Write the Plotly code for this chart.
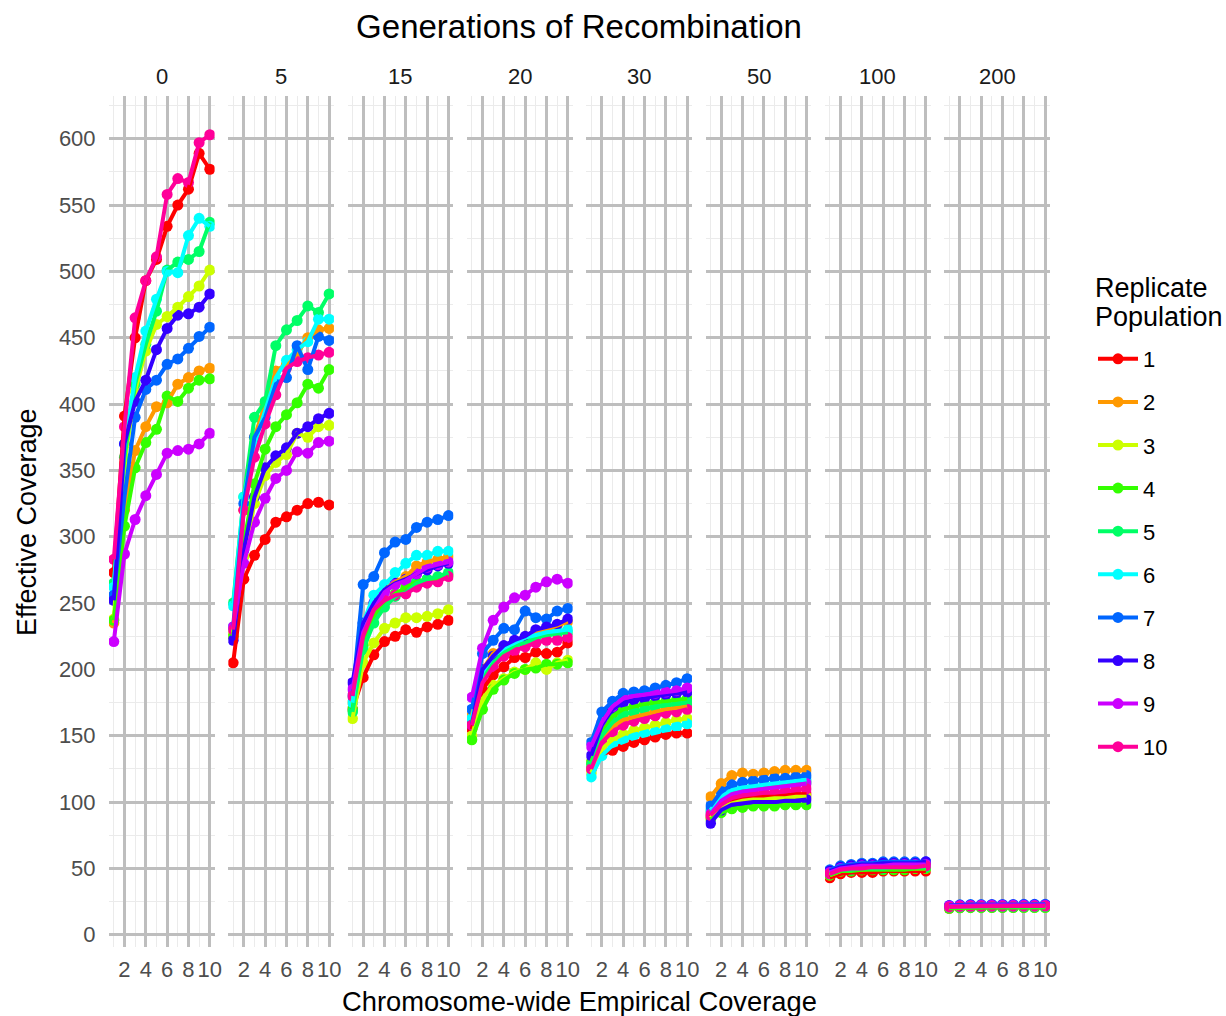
import plotly.graph_objects as go

coverage = list(range(1, 11))
generations = ["0", "5", "15", "20", "30", "50", "100", "200"]
replicates = [str(i) for i in range(1, 11)]
colors = ["#FF0000", "#FF9900", "#CCFF00", "#33FF00", "#00FF66",
          "#00FFFF", "#0066FF", "#3300FF", "#CC00FF", "#FF0099"]

# rows: replicate 1..10, columns: coverage 1..10
gen_0 = [
    [273, 391, 450, 493, 509, 534, 550, 562, 589, 577],
    [235, 320, 365, 383, 398, 401, 415, 420, 425, 427],
    [238, 355, 410, 440, 460, 466, 473, 481, 489, 501],
    [237, 308, 352, 371, 381, 406, 402, 412, 418, 419],
    [265, 360, 415, 445, 470, 501, 507, 509, 515, 537],
    [262, 370, 420, 455, 479, 500, 499, 527, 540, 534],
    [256, 330, 390, 411, 418, 430, 434, 442, 451, 458],
    [252, 370, 402, 418, 441, 457, 467, 468, 473, 483],
    [221, 287, 313, 331, 347, 363, 365, 366, 370, 378],
    [283, 383, 465, 493, 511, 558, 570, 567, 597, 603],
]
gen_5 = [
    [205, 268, 286, 298, 311, 315, 320, 325, 326, 324],
    [225, 320, 375, 400, 425, 430, 438, 450, 456, 457],
    [228, 285, 325, 346, 356, 362, 378, 375, 383, 384],
    [225, 295, 340, 366, 383, 392, 401, 415, 412, 426],
    [250, 330, 390, 402, 444, 456, 463, 474, 469, 483],
    [248, 330, 370, 395, 420, 433, 441, 447, 464, 464],
    [232, 325, 375, 390, 415, 420, 444, 426, 451, 448],
    [222, 290, 330, 352, 361, 367, 378, 383, 389, 393],
    [232, 280, 311, 329, 344, 350, 364, 363, 371, 372],
    [230, 320, 360, 385, 407, 427, 432, 435, 437, 439],
]
gen_15 = [
    [170, 194, 211, 221, 225, 230, 228, 232, 234, 237],
    [175, 230, 245, 260, 266, 270, 278, 281, 283, 285],
    [163, 205, 220, 231, 235, 239, 239, 240, 242, 245],
    [170, 218, 240, 250, 257, 262, 266, 268, 268, 271],
    [168, 215, 235, 247, 255, 258, 265, 268, 270, 273],
    [175, 235, 256, 264, 273, 280, 286, 286, 289, 289],
    [180, 264, 270, 288, 296, 298, 307, 311, 313, 316],
    [190, 235, 250, 260, 265, 268, 272, 275, 278, 280],
    [185, 228, 245, 258, 264, 267, 272, 277, 279, 281],
    [180, 225, 245, 252, 256, 257, 262, 265, 266, 270],
]
gen_20 = [
    [155, 185, 196, 202, 209, 209, 213, 212, 213, 220],
    [165, 200, 212, 217, 221, 224, 228, 230, 233, 236],
    [150, 178, 188, 193, 198, 200, 205, 200, 205, 207],
    [147, 170, 185, 192, 197, 200, 201, 204, 204, 205],
    [160, 195, 205, 213, 218, 220, 224, 226, 227, 228],
    [163, 198, 210, 216, 220, 224, 226, 228, 229, 230],
    [170, 212, 222, 231, 230, 244, 239, 238, 244, 246],
    [158, 200, 210, 218, 222, 225, 230, 232, 234, 238],
    [179, 216, 237, 247, 254, 256, 262, 266, 268, 265],
    [158, 190, 202, 210, 214, 217, 220, 222, 222, 224],
]
gen_30 = [
    [125, 136, 139, 142, 145, 147, 149, 151, 152, 152],
    [130, 148, 157, 162, 164, 166, 168, 170, 171, 172],
    [122, 140, 147, 151, 154, 156, 158, 160, 162, 163],
    [130, 152, 165, 170, 172, 174, 175, 176, 177, 178],
    [128, 150, 160, 166, 168, 170, 172, 173, 174, 175],
    [119, 135, 143, 147, 150, 152, 153, 155, 157, 159],
    [145, 168, 176, 182, 183, 184, 186, 188, 190, 193],
    [135, 158, 170, 175, 177, 178, 180, 181, 182, 183],
    [142, 160, 172, 178, 180, 181, 182, 183, 184, 186],
    [125, 145, 153, 158, 161, 163, 165, 167, 168, 170],
]
gen_50 = [
    [89, 97, 101, 103, 104, 104, 105, 105, 106, 106],
    [104, 114, 120, 122, 121, 122, 123, 124, 124, 124],
    [88, 96, 99, 101, 102, 102, 103, 103, 104, 104],
    [87, 92, 95, 96, 97, 97, 97, 98, 98, 98],
    [93, 102, 107, 109, 110, 111, 112, 113, 114, 115],
    [94, 104, 109, 111, 112, 113, 114, 115, 116, 117],
    [97, 108, 113, 115, 116, 117, 118, 118, 119, 120],
    [84, 94, 98, 99, 100, 100, 100, 101, 101, 102],
    [91, 101, 106, 108, 109, 110, 111, 112, 113, 114],
    [90, 98, 103, 105, 106, 107, 107, 108, 109, 110],
]
gen_100 = [
    [43, 46, 47, 47, 47, 48, 48, 48, 48, 48],
    [46, 49, 50, 50, 50, 51, 51, 51, 51, 51],
    [45, 48, 49, 49, 50, 50, 50, 50, 50, 50],
    [45, 48, 48, 49, 49, 49, 49, 49, 50, 50],
    [46, 49, 49, 50, 50, 50, 51, 51, 51, 51],
    [47, 50, 51, 51, 52, 52, 52, 52, 53, 53],
    [49, 52, 53, 54, 54, 55, 55, 55, 55, 55],
    [48, 51, 52, 53, 53, 54, 54, 54, 54, 55],
    [47, 50, 51, 52, 52, 52, 53, 53, 53, 53],
    [46, 49, 50, 50, 51, 51, 51, 51, 51, 52],
]
gen_200 = [
    [20.0, 20.5, 20.8, 20.8, 20.8, 20.9, 20.9, 20.9, 20.9, 21.0],
    [21.0, 21.2, 21.3, 21.3, 21.3, 21.3, 21.4, 21.4, 21.4, 21.4],
    [20.3, 20.8, 21.0, 21.0, 21.0, 21.1, 21.1, 21.1, 21.1, 21.1],
    [20.0, 20.3, 20.4, 20.4, 20.5, 20.5, 20.5, 20.5, 20.5, 20.5],
    [20.8, 21.1, 21.2, 21.2, 21.3, 21.3, 21.3, 21.3, 21.3, 21.3],
    [21.3, 21.6, 21.8, 21.8, 21.9, 21.9, 21.9, 21.9, 21.9, 22.0],
    [22.0, 22.6, 22.8, 22.8, 22.9, 22.9, 22.9, 23.0, 23.0, 23.0],
    [21.8, 22.2, 22.3, 22.3, 22.4, 22.4, 22.4, 22.4, 22.4, 22.5],
    [21.7, 22.0, 22.1, 22.2, 22.2, 22.2, 22.2, 22.2, 22.2, 22.3],
    [21.0, 21.4, 21.5, 21.5, 21.6, 21.6, 21.6, 21.6, 21.6, 21.7],
]

panels = [gen_0, gen_5, gen_15, gen_20, gen_30, gen_50, gen_100, gen_200]

x_ticks = [2, 4, 6, 8, 10]
x_minor = [1, 3, 5, 7, 9]
y_ticks = list(range(0, 601, 50))
y_minor = list(range(25, 626, 50))

FONT = "Liberation Sans, Arial, sans-serif"
MAJOR = "#BEBEBE"
MINOR = "#EBEBEB"
MSIZE = 11
LWIDTH = 4

fig = go.Figure()


def axis_ids(k):
    return ("x" if k == 0 else f"x{k + 1}"), ("y" if k == 0 else f"y{k + 1}")


# points first (ggplot draws geom_point below geom_line here)
for k, data in enumerate(panels):
    xa, ya = axis_ids(k)
    for s in range(10):
        fig.add_trace(go.Scatter(
            x=coverage, y=data[s], mode="markers",
            marker=dict(size=MSIZE, color=colors[s]),
            xaxis=xa, yaxis=ya, showlegend=False,
            legendgroup=replicates[s], name=replicates[s], hoverinfo="skip"))
for k, data in enumerate(panels):
    xa, ya = axis_ids(k)
    for s in range(10):
        fig.add_trace(go.Scatter(
            x=coverage, y=data[s], mode="lines",
            line=dict(width=LWIDTH, color=colors[s]),
            xaxis=xa, yaxis=ya, showlegend=False,
            legendgroup=replicates[s], name=replicates[s]))
# legend entries
for s in range(10):
    fig.add_trace(go.Scatter(
        x=[None], y=[None], mode="lines+markers",
        line=dict(width=LWIDTH, color=colors[s]),
        marker=dict(size=MSIZE, color=colors[s]),
        legendgroup=replicates[s], name=replicates[s], showlegend=True))

W, H = 1226, 1016
ML, MR, MT, MB = 109, 176, 96, 69
plot_w = W - ML - MR
plot_h = H - MT - MB
panel_w = 105.6 / plot_w
step = (1 - panel_w) / 7


def py(pix):
    """paper y for a pixel row"""
    return 1 - (pix - MT) / plot_h


def px(pix):
    return (pix - ML) / plot_w


layout = {}
annotations = []
for k in range(8):
    xa, ya = axis_ids(k)
    xkey = "xaxis" if k == 0 else f"xaxis{k + 1}"
    ykey = "yaxis" if k == 0 else f"yaxis{k + 1}"
    d0 = k * step
    layout[xkey] = dict(
        domain=[d0, d0 + panel_w], range=[0.55, 10.45], anchor=ya,
        tickmode="array", tickvals=x_ticks, ticktext=[str(v) for v in x_ticks],
        showgrid=True, gridcolor=MAJOR, gridwidth=2.6,
        minor=dict(tickmode="array", tickvals=x_minor, showgrid=True,
                   gridcolor=MINOR, gridwidth=1.4),
        zeroline=False, showline=False,
        ticks="outside", ticklen=3, tickcolor="rgba(0,0,0,0)",
        tickfont=dict(family=FONT, size=22, color="#4D4D4D"))
    ydict = dict(
        domain=[0, 1], range=[-9.2, 632.2], anchor=xa,
        tickmode="array", tickvals=y_ticks, ticktext=[str(v) for v in y_ticks],
        showgrid=True, gridcolor=MAJOR, gridwidth=2.6,
        minor=dict(tickmode="array", tickvals=y_minor, showgrid=True,
                   gridcolor=MINOR, gridwidth=1.4),
        zeroline=False, showline=False,
        ticks="outside", ticklen=8, tickcolor="rgba(0,0,0,0)",
        tickfont=dict(family=FONT, size=22, color="#4D4D4D"))
    if k > 0:
        ydict["matches"] = "y"
        ydict["showticklabels"] = False
        ydict["ticks"] = ""
    layout[ykey] = ydict
    annotations.append(dict(
        text=generations[k], xref="paper", yref="paper",
        x=d0 + panel_w / 2, y=py(76),
        xanchor="center", yanchor="middle", showarrow=False,
        font=dict(family=FONT, size=22, color="#1A1A1A")))

annotations.append(dict(
    text="Chromosome-wide Empirical Coverage", xref="paper", yref="paper",
    x=0.5, y=py(1001), xanchor="center", yanchor="middle",
    showarrow=False, font=dict(family=FONT, size=27.3, color="#000000")))
annotations.append(dict(
    text="Effective Coverage", xref="paper", yref="paper",
    x=px(27), y=py(522), xanchor="center", yanchor="middle",
    textangle=-90, showarrow=False, font=dict(family=FONT, size=27, color="#000000")))
# legend title (two lines placed separately to match line spacing)
for txt, ypix in [("Replicate", 288), ("Population", 317)]:
    annotations.append(dict(
        text=txt, xref="paper", yref="paper", x=px(1093), y=py(ypix),
        xanchor="left", yanchor="middle", showarrow=False,
        font=dict(family=FONT, size=27, color="#000000")))

fig.update_layout(
    width=W, height=H,
    margin=dict(l=ML, r=MR, t=MT, b=MB, autoexpand=False),
    paper_bgcolor="white", plot_bgcolor="white",
    title=dict(text="Generations of Recombination", x=579 / W, xanchor="center",
               y=1 - 26 / H, yanchor="middle", yref="container",
               font=dict(family=FONT, size=33, color="#000000")),
    legend=dict(
        font=dict(family=FONT, size=22, color="#000000"),
        x=px(1093), xanchor="left",
        y=py(338), yanchor="top",
        itemwidth=40,
        tracegroupgap=11.5, bgcolor="rgba(0,0,0,0)"),
    annotations=annotations,
    showlegend=True,
    **layout)

fig.write_html("out.html")
